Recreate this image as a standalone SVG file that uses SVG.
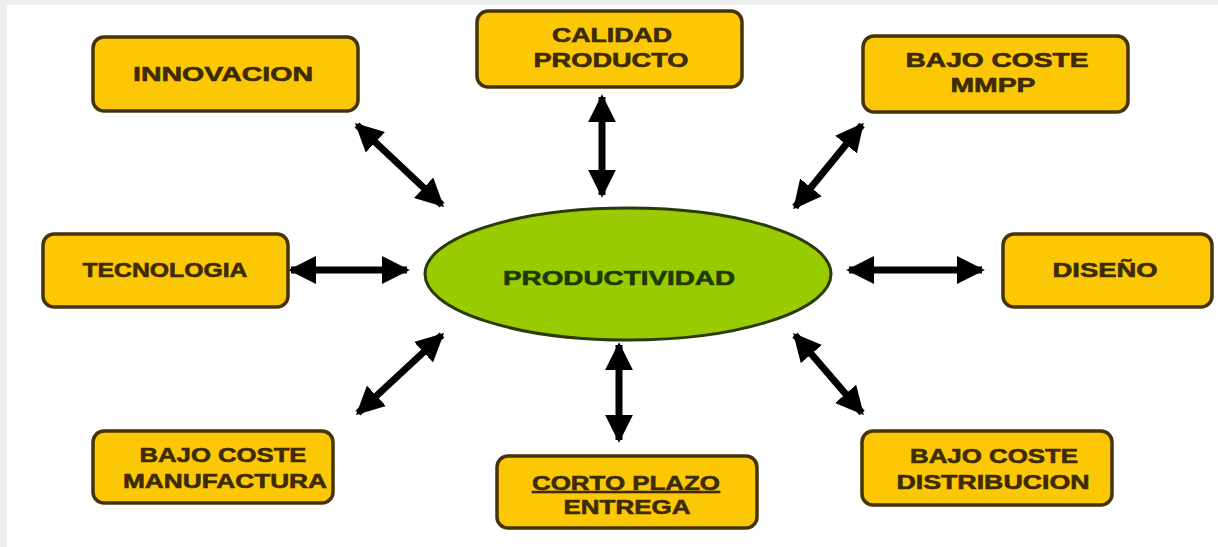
<svg xmlns="http://www.w3.org/2000/svg" width="1218" height="547" viewBox="0 0 1218 547">
<style>
.box{fill:#FCC805;stroke:#45340A;stroke-width:3.5}
.bt{font-family:"Liberation Sans",Arial,sans-serif;font-weight:bold;font-size:20px;fill:#3D2B06;stroke:#3D2B06;stroke-width:0.6;text-anchor:middle}
.ct{font-family:"Liberation Sans",Arial,sans-serif;font-weight:bold;font-size:20px;fill:#1E3A05;stroke:#1E3A05;stroke-width:0.6;text-anchor:middle}
.con{stroke:#000;stroke-width:7;fill:none;marker-start:url(#ah);marker-end:url(#ah)}
</style>
<defs>
<marker id="ah" viewBox="0 0 10 10" refX="9" refY="5" markerWidth="28" markerHeight="28" markerUnits="userSpaceOnUse" orient="auto-start-reverse">
<path d="M0,0 L10,5 L0,10 Z" fill="#000"/>
</marker>
</defs>
<rect x="0" y="0" width="1218" height="547" fill="#EEEEEE"/>
<rect x="7" y="5" width="1211" height="542" fill="#FFFFFF"/>
<g id="connectors">
<line class="con" x1="357" y1="125" x2="442" y2="205"/>
<line class="con" x1="602" y1="97" x2="602" y2="195"/>
<line class="con" x1="862" y1="125" x2="795" y2="207"/>
<line class="con" x1="291" y1="270" x2="407" y2="270"/>
<line class="con" x1="849" y1="270" x2="982" y2="270"/>
<line class="con" x1="442" y1="335" x2="358" y2="413"/>
<line class="con" x1="619" y1="345" x2="619" y2="440"/>
<line class="con" x1="795" y1="335" x2="862" y2="413"/>
</g>
<g id="productividad">
<ellipse cx="628" cy="274" rx="203" ry="66" fill="#99CC00" stroke="#2B3A08" stroke-width="3"/>
<text class="ct" x="619" y="285" textLength="232" lengthAdjust="spacingAndGlyphs">PRODUCTIVIDAD</text>
</g>
<g id="innovacion">
<rect class="box" x="93" y="37" width="265" height="74" rx="11"/>
<text class="bt" x="223" y="81" textLength="180" lengthAdjust="spacingAndGlyphs">INNOVACION</text>
</g>
<g id="calidad">
<rect class="box" x="477" y="11" width="265" height="76" rx="11"/>
<text class="bt" x="612" y="42" textLength="120" lengthAdjust="spacingAndGlyphs">CALIDAD</text>
<text class="bt" x="611" y="67" textLength="155" lengthAdjust="spacingAndGlyphs">PRODUCTO</text>
</g>
<g id="mmpp">
<rect class="box" x="863" y="36" width="265" height="76" rx="11"/>
<text class="bt" x="997" y="67" textLength="183" lengthAdjust="spacingAndGlyphs">BAJO COSTE</text>
<text class="bt" x="993" y="92" textLength="85" lengthAdjust="spacingAndGlyphs">MMPP</text>
</g>
<g id="tecnologia">
<rect class="box" x="43" y="234" width="245" height="73" rx="11"/>
<text class="bt" x="165" y="277" textLength="165" lengthAdjust="spacingAndGlyphs">TECNOLOGIA</text>
</g>
<g id="diseno">
<rect class="box" x="1003" y="234" width="209" height="73" rx="11"/>
<text class="bt" x="1105" y="277" textLength="105" lengthAdjust="spacingAndGlyphs">DISEÑO</text>
</g>
<g id="manufactura">
<rect class="box" x="93" y="431" width="240" height="72" rx="11"/>
<text class="bt" x="223" y="462" textLength="167" lengthAdjust="spacingAndGlyphs">BAJO COSTE</text>
<text class="bt" x="225" y="488" textLength="204" lengthAdjust="spacingAndGlyphs">MANUFACTURA</text>
</g>
<g id="corto">
<rect class="box" x="497" y="456" width="260" height="72" rx="11"/>
<text class="bt" x="626" y="490" textLength="188" lengthAdjust="spacingAndGlyphs" text-decoration="underline">CORTO PLAZO</text>
<text class="bt" x="627" y="514" textLength="127" lengthAdjust="spacingAndGlyphs">ENTREGA</text>
</g>
<g id="distribucion">
<rect class="box" x="862" y="431" width="250" height="74" rx="11"/>
<text class="bt" x="994" y="463" textLength="168" lengthAdjust="spacingAndGlyphs">BAJO COSTE</text>
<text class="bt" x="993" y="489" textLength="193" lengthAdjust="spacingAndGlyphs">DISTRIBUCION</text>
</g>
</svg>
